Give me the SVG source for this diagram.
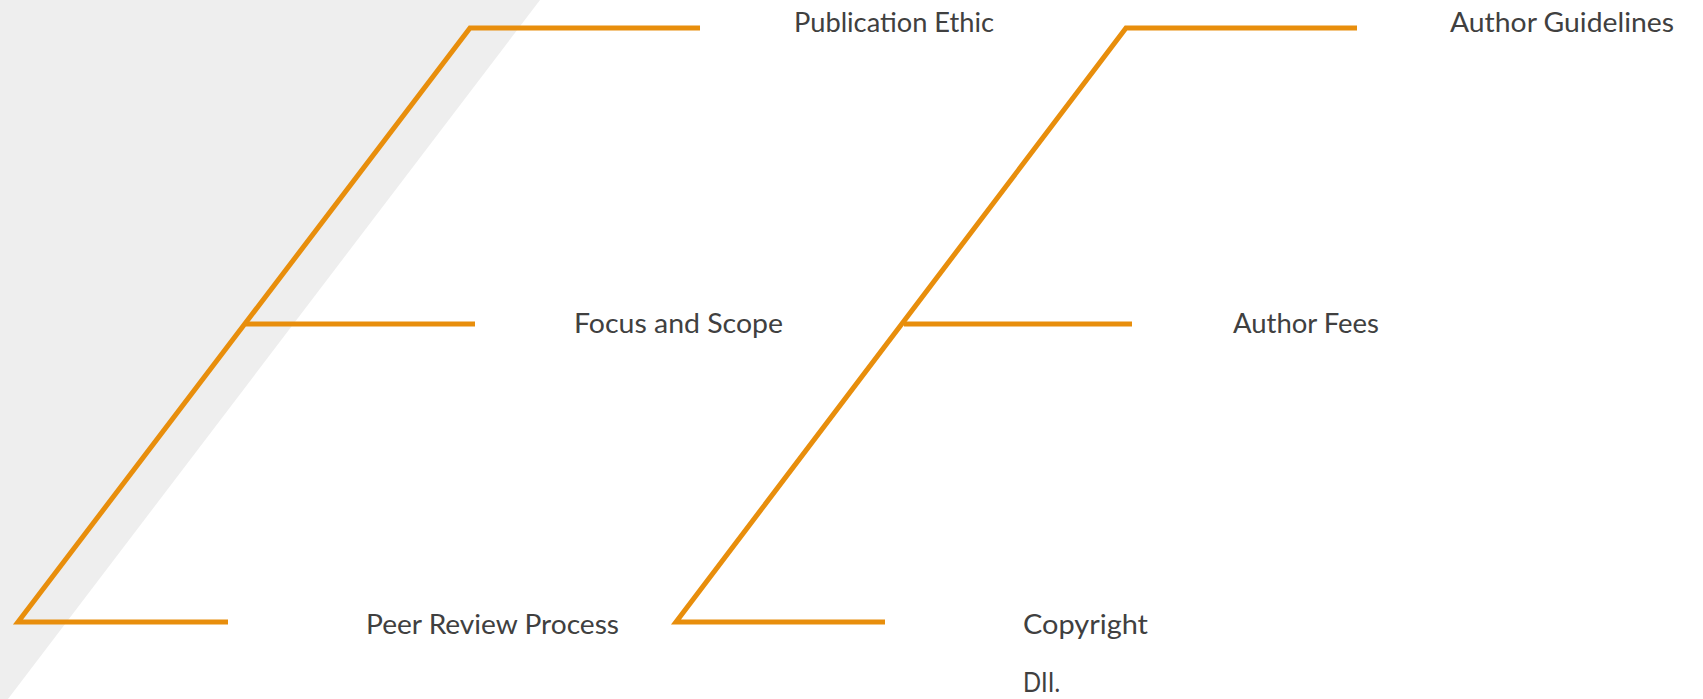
<svg xmlns="http://www.w3.org/2000/svg" width="1703" height="699" viewBox="0 0 1703 699">
<style>
.bg{fill:#EEEEEE}
.ln{fill:none;stroke:#E88E0C;stroke-width:5;stroke-linejoin:miter;stroke-linecap:butt}
.lb{font-family:Lato,"Liberation Sans",sans-serif;font-size:27px;fill:#404040}
</style>
<rect width="1703" height="699" fill="#FFFFFF"/>
<polygon class="bg" points="0,0 540,0 8,699 0,699"/>
<g id="connectors">
<polyline class="ln" points="228,622 18,622 470,28 700,28"/>
<line class="ln" x1="246" y1="324" x2="475" y2="324"/>
<polyline class="ln" points="885,622 676,622 1126,28 1357,28"/>
<line class="ln" x1="904" y1="324" x2="1132" y2="324"/>
</g>
<g id="publication-ethic"><text class="lb" x="794" y="32" textLength="200" lengthAdjust="spacingAndGlyphs">Publication Ethic</text></g>
<g id="author-guidelines"><text class="lb" x="1450" y="32" textLength="224" lengthAdjust="spacingAndGlyphs">Author Guidelines</text></g>
<g id="focus-and-scope"><text class="lb" x="574" y="333" textLength="209" lengthAdjust="spacingAndGlyphs">Focus and Scope</text></g>
<g id="author-fees"><text class="lb" x="1233" y="333" textLength="146" lengthAdjust="spacingAndGlyphs">Author Fees</text></g>
<g id="peer-review-process"><text class="lb" x="366" y="634" textLength="253" lengthAdjust="spacingAndGlyphs">Peer Review Process</text></g>
<g id="copyright"><text class="lb" x="1023" y="634" textLength="125" lengthAdjust="spacingAndGlyphs">Copyright</text></g>
<g id="dll"><text class="lb" x="1023" y="692" textLength="37" lengthAdjust="spacingAndGlyphs">DII.</text></g>
</svg>
